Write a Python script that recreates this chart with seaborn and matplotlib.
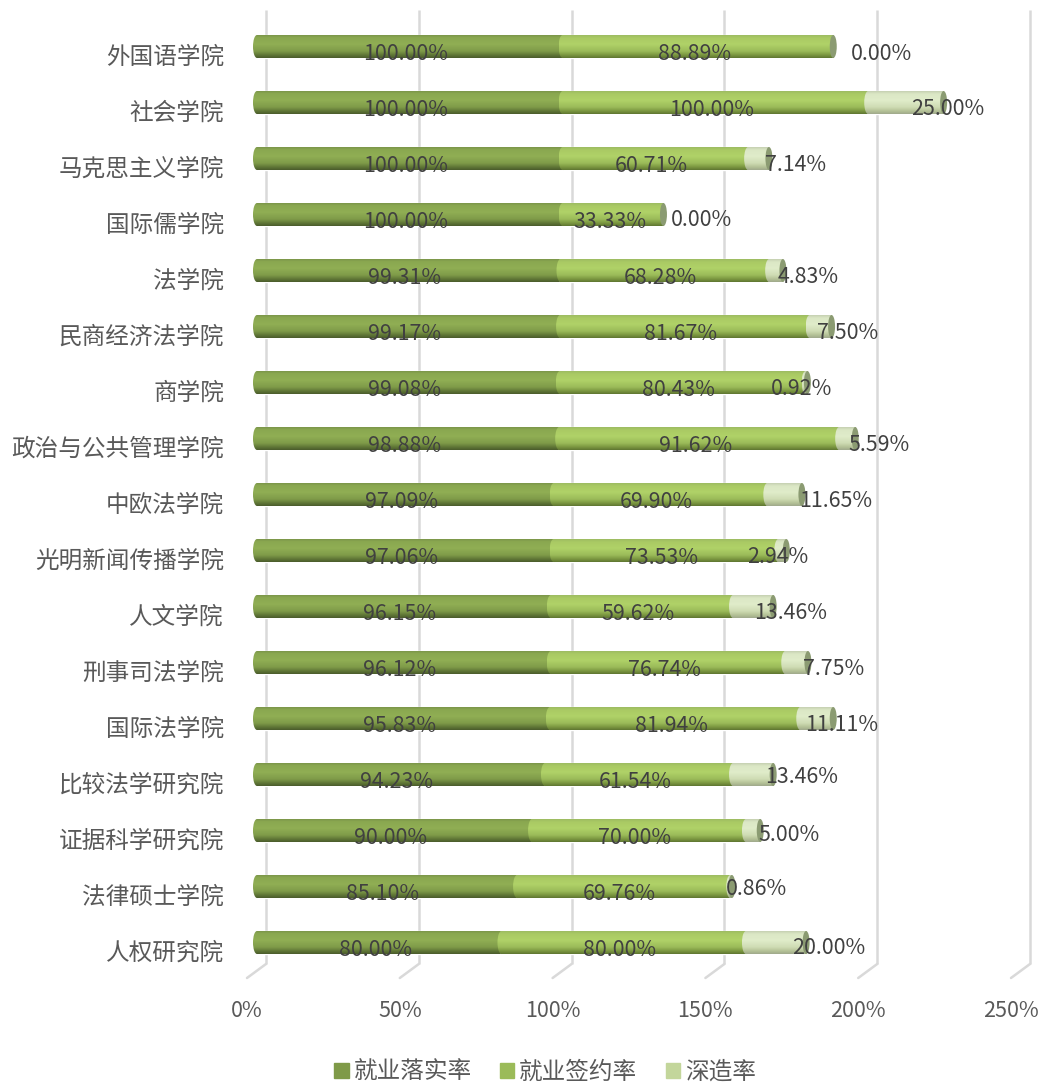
import numpy as np
import pandas as pd
import matplotlib
matplotlib.use('Agg')
import matplotlib.pyplot as plt
import seaborn as sns
from matplotlib.colors import LinearSegmentedColormap
from matplotlib.patches import Ellipse, Patch

# Datos
colleges = ['外国语学院', '社会学院', '马克思主义学院', '国际儒学院', '法学院', '民商经济法学院',
            '商学院', '政治与公共管理学院', '中欧法学院', '光明新闻传播学院', '人文学院',
            '刑事司法学院', '国际法学院', '比较法学研究院', '证据科学研究院', '法律硕士学院',
            '人权研究院']
luoshi = [100.00, 100.00, 100.00, 100.00, 99.31, 99.17, 99.08, 98.88, 97.09, 97.06, 96.15,
          96.12, 95.83, 94.23, 90.00, 85.10, 80.00]
qianyue = [88.89, 100.00, 60.71, 33.33, 68.28, 81.67, 80.43, 91.62, 69.90, 73.53, 59.62,
           76.74, 81.94, 61.54, 70.00, 69.76, 80.00]
shenzao = [0.00, 25.00, 7.14, 0.00, 4.83, 7.50, 0.92, 5.59, 11.65, 2.94, 13.46,
           7.75, 11.11, 13.46, 5.00, 0.86, 20.00]
series_names = ['就业落实率', '就业签约率', '深造率']
x_ticks = [0, 50, 100, 150, 200, 250]

# Ajuste manual de las etiquetas del tercer grupo (pixeles)
third_dx = [51, 45, 41, 41.5, 36, 31, -1, 35, 55, -1, 41, 41, 28, 52, 39, 29, 56]
third_dy = [5.5, 4.5, 4.5, 3.5, 4.5, 4.5, 4.5, 4.5, 4.5, 4.5, 4.5, 4.5, 4.5, 0.5, 2.5, 0.5, 3.5]

# Escalas
W, H = 1038, 1085
PX_X = 3.056   # pixeles por 1%
X0 = 253
AX_LEFT = 240
ROW = 56
Y0 = 46.5
AX_BOTTOM = 978
TEXT_DY = 1.5


def px(n):
    return n / PX_X


def ry(n):
    return (n - Y0) / ROW


sns.set_style('white')
plt.rcParams['font.family'] = ['Noto Sans CJK SC', 'DejaVu Sans']

fig = plt.figure(figsize=(W / 100, H / 100), dpi=100)
ax = fig.add_axes([AX_LEFT / W, 1 - AX_BOTTOM / H, (W - AX_LEFT) / W, AX_BOTTOM / H])

df = pd.DataFrame({'college': colleges, 'a': luoshi, 'b': qianyue, 'c': shenzao})
base_colors = ['#7f9a48', '#9bbb59', '#c3d69b']
sns.barplot(data=df, x='a', y='college', orient='h', color=base_colors[0], saturation=1,
            width=23 / ROW, ax=ax)
sns.barplot(data=df, x='b', y='college', left=df['a'], orient='h', color=base_colors[1],
            saturation=1, width=23 / ROW, ax=ax)
sns.barplot(data=df, x='c', y='college', left=df['a'] + df['b'], orient='h',
            color=base_colors[2], saturation=1, width=23 / ROW, ax=ax)

# Efecto cilindro
cmaps = [
    LinearSegmentedColormap.from_list('s1', [(0, '#7b9649'), (0.1, '#8aa750'), (0.4, '#90ae54'),
                                             (0.7, '#7f9b49'), (0.88, '#5f7636'), (1, '#4b5c2c')]),
    LinearSegmentedColormap.from_list('s2', [(0, '#9dbb62'), (0.12, '#aaca64'), (0.4, '#b0d268'),
                                             (0.7, '#9bbb59'), (0.88, '#7a9640'), (1, '#5f7632')]),
    LinearSegmentedColormap.from_list('s3', [(0, '#c6d0b2'), (0.12, '#dbe7c5'), (0.4, '#e0ecca'),
                                             (0.7, '#cfdcb4'), (0.88, '#b4c196'), (1, '#a0a98c')]),
]
grad = np.linspace(0, 1, 64).reshape(-1, 1)


def shade(x0, x1, y0, y1, cmap, clip, z):
    im = ax.imshow(grad, cmap=cmap, extent=(x0, x1, y1, y0), aspect='auto', zorder=z,
                   interpolation='bilinear')
    im.set_clip_path(clip)


half = 11.5 / ROW
n = len(colleges)
for s, vals in enumerate([luoshi, qianyue, shenzao]):
    patches = ax.patches[s * n:(s + 1) * n]
    for i, bar in enumerate(patches):
        if vals[i] == 0:
            continue
        left = bar.get_x()
        last = s == 2 or (s == 1 and shenzao[i] == 0)
        right = left + bar.get_width() + px(3 if last else 4)
        # el segmento arranca con un extremo redondeado
        bar.set_x(left + px(4))
        bar.set_width(right - left - px(4))
        bar.set_zorder(3 + s)
        shade(left + px(4), right, i - half, i + half, cmaps[s], bar, 3 + s)
        cap = Ellipse((left + px(4), i), px(8), 2 * half, facecolor='none', edgecolor='none',
                      zorder=3 + s)
        ax.add_patch(cap)
        shade(left, left + px(8), i - half, i + half, cmaps[s], cap, 3 + s)

# Tapa final de cada barra
for i in range(n):
    total = luoshi[i] + qianyue[i] + shenzao[i]
    ax.add_patch(Ellipse((total + px(3), i), px(7), 2 * half, facecolor='#8b9b72',
                         edgecolor='none', zorder=7))

# Rejilla
for t in x_ticks:
    ax.plot([t + px(13), t + px(13)], [ry(10), ry(964)], color='#d9d9d9', lw=1.8, zorder=0.5,
            clip_on=False, solid_capstyle='butt')
    ax.plot([t + px(13), t - px(6)], [ry(964), ry(978)], color='#d9d9d9', lw=1.8, zorder=0.5,
            clip_on=False)

# Etiquetas de datos
label_color = '#404040'
for i in range(n):
    ax.text(luoshi[i] / 2, i + ry(5.5 + TEXT_DY + Y0), f'{luoshi[i]:.2f}%', ha='center',
            va='center', fontsize=15.4, color=label_color, zorder=10)
    ax.text(luoshi[i] + qianyue[i] / 2, i + ry(5.5 + TEXT_DY + Y0), f'{qianyue[i]:.2f}%',
            ha='center', va='center', fontsize=15.4, color=label_color, zorder=10)
    ax.text(luoshi[i] + qianyue[i] + shenzao[i] / 2 + px(third_dx[i]),
            i + ry(third_dy[i] + TEXT_DY + Y0), f'{shenzao[i]:.2f}%', ha='center', va='center',
            fontsize=15.4, color=label_color, zorder=10)

# Ejes
ax.set_xticks([t - px(6) for t in x_ticks], [f'{t}%' for t in x_ticks])
ax.set_yticks(np.arange(n) + 8.5 / ROW, colleges)
ax.set_xlim(-px(X0 - AX_LEFT), px(W - X0))
ax.set_ylim(ry(AX_BOTTOM), ry(0))
ax.set_xlabel('')
ax.set_ylabel('')
ax.tick_params(axis='x', length=0, pad=16, labelsize=15.5, labelcolor='#595959')
ax.tick_params(axis='y', length=0, pad=11.6, labelsize=17, labelcolor='#595959')
sns.despine(ax=ax, left=True, bottom=True)
ax.patch.set_alpha(0)

# Leyenda
handles = [Patch(color=c, label=name) for c, name in zip(base_colors, series_names)]
fig.legend(handles=handles, loc='lower center', bbox_to_anchor=(0.525, -0.0185), ncol=3, frameon=False,
           fontsize=17, labelcolor='#595959', handlelength=0.62, handleheight=0.62,
           handletextpad=0.2, columnspacing=1.2)

fig.savefig('out.png', dpi=100)
